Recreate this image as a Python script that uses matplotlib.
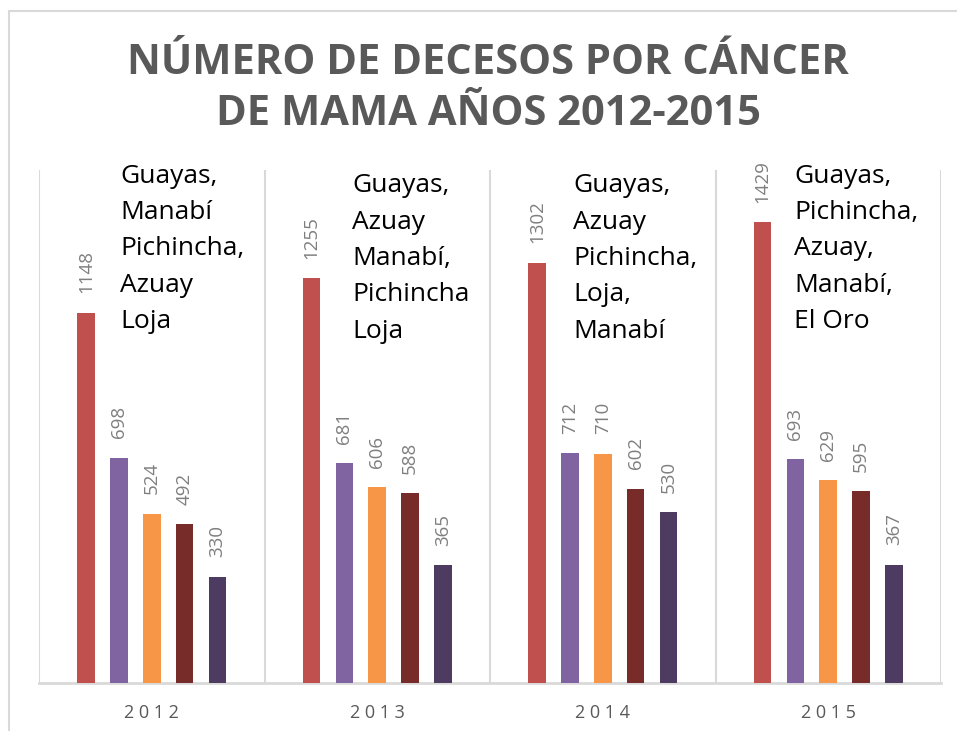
import numpy as np
import matplotlib
matplotlib.use("Agg")
import matplotlib.pyplot as plt
from matplotlib.patches import Rectangle

# Deaths from breast cancer, top five provinces per year (ranked)
years = ["2012", "2013", "2014", "2015"]
rank_1 = [1148, 1255, 1302, 1429]
rank_2 = [698, 681, 712, 693]
rank_3 = [524, 606, 710, 629]
rank_4 = [492, 588, 602, 595]
rank_5 = [330, 365, 530, 367]

provinces = [
    "Guayas,\nManabí\nPichincha,\nAzuay\nLoja",
    "Guayas,\nAzuay\nManabí,\nPichincha\nLoja",
    "Guayas,\nAzuay\nPichincha,\nLoja,\nManabí",
    "Guayas,\nPichincha,\nAzuay,\nManabí,\nEl Oro",
]

colors = ["#C0504D", "#8064A2", "#F79646", "#772C2A", "#4D3B62"]
title = "NÚMERO DE DECESOS POR CÁNCER\nDE MAMA AÑOS 2012-2015"

plt.rcParams["font.family"] = ["Open Sans", "DejaVu Sans"]

fig = plt.figure(figsize=(9.57, 7.31), dpi=100)
W, H = 957, 731

# outer chart frame
fig.patches.append(Rectangle((9 / W, -0.1), 1.2, (H - 11) / H + 0.1,
                             transform=fig.transFigure, fill=False,
                             edgecolor="#D9D9D9", linewidth=1.5))

ax = fig.add_axes([39 / W, (H - 683) / H, (941 - 39) / W, (683 - 170) / H])

series = [rank_1, rank_2, rank_3, rank_4, rank_5]
x = np.arange(len(years))
step = 0.146
width = 0.078
for i, (vals, c) in enumerate(zip(series, colors)):
    pos = x + (i - 2) * step
    bars = ax.bar(pos, vals, width=width, color=c, zorder=3)
    for b, v in zip(bars, vals):
        ax.annotate(str(v), (b.get_x() + b.get_width() / 2, v),
                    xytext=(0, 14), textcoords="offset points",
                    ha="center", va="bottom", rotation=90,
                    fontsize=13.5, color="#7F7F7F")

ax.set_xlim(-0.5, len(years) - 0.5)
ax.set_ylim(0, 1590)

# vertical separators between years
for b in np.arange(-0.5, len(years), 1.0):
    ax.axvline(b, color="#D9D9D9", linewidth=1.5, zorder=1)

for s in ["top", "right", "left"]:
    ax.spines[s].set_visible(False)
ax.spines["bottom"].set_color("#D9D9D9")
ax.spines["bottom"].set_linewidth(2)

ax.set_yticks([])
ax.set_xticks(x)
ax.set_xticklabels([" ".join(y) for y in years], fontsize=13, color="#595959")
ax.tick_params(axis="x", length=0, pad=15)

# province names per year
text_x = [0.36, 0.39, 0.37, 0.35]
text_y = [1610, 1580, 1580, 1610]
for xi, ty, tx, label in zip(x, text_y, text_x, provinces):
    ax.text(xi + tx - 0.5, ty, label, ha="left", va="top",
            fontsize=19, color="black", linespacing=1.6, clip_on=False)

fig.text(0.51, (H - 89) / H, title, ha="center", va="center",
         fontsize=30, fontweight="bold", color="#595959", linespacing=1.3)

fig.savefig("out.png", dpi=100, facecolor="white")
